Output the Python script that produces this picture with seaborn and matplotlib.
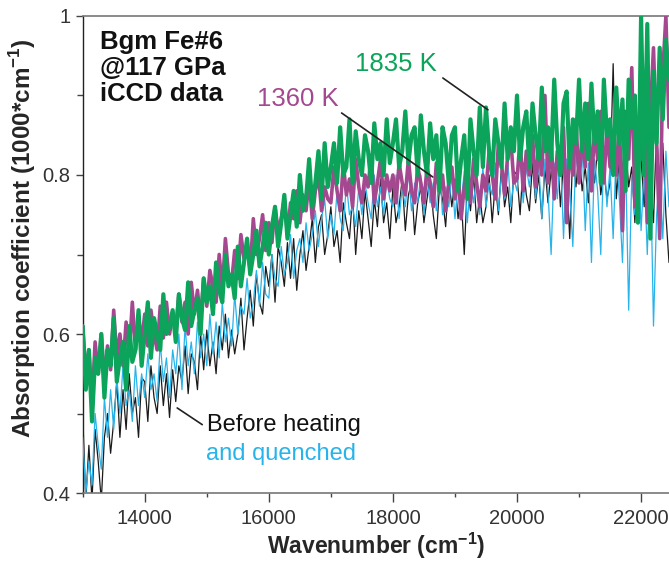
import numpy as np
import pandas as pd
import matplotlib
matplotlib.use("Agg")
import matplotlib.pyplot as plt
import seaborn as sns

# ---------------- data ----------------
wn_start, wn_stop, wn_step = 13000, 22450, 50
wavenumber = np.arange(wn_start, wn_stop + 1, wn_step)

before_heating = [
    0.50, 0.39, 0.46, 0.39, 0.48, 0.44, 0.39, 0.47, 0.50, 0.45,
    0.49, 0.54, 0.47, 0.53, 0.48, 0.55, 0.50, 0.52, 0.47, 0.545,
    0.54, 0.49, 0.56, 0.52, 0.50, 0.56, 0.51, 0.55, 0.495, 0.555,
    0.515, 0.56, 0.54, 0.585, 0.525, 0.575, 0.565, 0.53, 0.60, 0.555,
    0.605, 0.56, 0.59, 0.55, 0.61, 0.58, 0.625, 0.57, 0.605, 0.575,
    0.60, 0.645, 0.58, 0.62, 0.655, 0.61, 0.675, 0.64, 0.625, 0.685,
    0.66, 0.70, 0.64, 0.71, 0.69, 0.66, 0.715, 0.67, 0.72, 0.655,
    0.70, 0.73, 0.68, 0.71, 0.745, 0.69, 0.735, 0.75, 0.70, 0.725,
    0.76, 0.71, 0.73, 0.69, 0.765, 0.74, 0.72, 0.775, 0.70, 0.755,
    0.72, 0.78, 0.745, 0.71, 0.77, 0.735, 0.795, 0.74, 0.765, 0.72,
    0.785, 0.74, 0.76, 0.795, 0.73, 0.775, 0.79, 0.725, 0.765, 0.785,
    0.74, 0.77, 0.80, 0.75, 0.72, 0.785, 0.77, 0.735, 0.795, 0.76,
    0.795, 0.745, 0.775, 0.70, 0.79, 0.755, 0.80, 0.74, 0.775, 0.74,
    0.76, 0.80, 0.74, 0.79, 0.75, 0.81, 0.76, 0.785, 0.74, 0.805,
    0.80, 0.75, 0.815, 0.775, 0.755, 0.815, 0.765, 0.80, 0.745, 0.81,
    0.765, 0.805, 0.78, 0.83, 0.76, 0.815, 0.80, 0.72, 0.83, 0.785,
    0.83, 0.78, 0.81, 0.765, 0.825, 0.79, 0.835, 0.775, 0.805, 0.77,
    0.79, 0.94, 0.77, 0.82, 0.76, 0.84, 0.785, 0.81, 0.74, 0.835,
    0.82, 0.76, 0.85, 0.79, 0.74, 0.86, 0.78, 0.84, 0.75, 0.69,
]

quenched = [
    0.47, 0.40, 0.44, 0.41, 0.50, 0.46, 0.43, 0.52, 0.47, 0.53,
    0.48, 0.545, 0.50, 0.56, 0.51, 0.53, 0.49, 0.56, 0.51, 0.55,
    0.52, 0.575, 0.53, 0.55, 0.515, 0.59, 0.54, 0.57, 0.52, 0.58,
    0.55, 0.60, 0.53, 0.61, 0.56, 0.59, 0.55, 0.615, 0.57, 0.60,
    0.56, 0.625, 0.575, 0.615, 0.57, 0.64, 0.59, 0.62, 0.585, 0.65,
    0.60, 0.635, 0.625, 0.67, 0.62, 0.64, 0.68, 0.635, 0.69, 0.65,
    0.645, 0.70, 0.67, 0.66, 0.71, 0.675, 0.69, 0.725, 0.67, 0.705,
    0.72, 0.69, 0.74, 0.705, 0.725, 0.755, 0.71, 0.745, 0.77, 0.72,
    0.75, 0.725, 0.78, 0.745, 0.73, 0.79, 0.75, 0.76, 0.735, 0.785,
    0.75, 0.79, 0.765, 0.745, 0.80, 0.76, 0.785, 0.75, 0.795, 0.77,
    0.76, 0.80, 0.745, 0.785, 0.76, 0.805, 0.755, 0.79, 0.765, 0.80,
    0.75, 0.795, 0.765, 0.79, 0.755, 0.81, 0.75, 0.785, 0.76, 0.80,
    0.745, 0.79, 0.765, 0.805, 0.74, 0.795, 0.765, 0.80, 0.75, 0.81,
    0.76, 0.79, 0.775, 0.815, 0.755, 0.80, 0.77, 0.82, 0.76, 0.795,
    0.78, 0.825, 0.765, 0.81, 0.785, 0.83, 0.77, 0.815, 0.745, 0.82,
    0.78, 0.70, 0.815, 0.77, 0.835, 0.72, 0.82, 0.78, 0.71, 0.83,
    0.79, 0.84, 0.73, 0.815, 0.69, 0.82, 0.78, 0.70, 0.83, 0.76,
    0.81, 0.72, 0.835, 0.77, 0.69, 0.82, 0.63, 0.80, 0.75, 0.84,
    0.73, 0.81, 0.70, 0.82, 0.61, 0.75, 0.80, 0.72, 0.83, 0.76,
]

heated_1360K = [
    0.61, 0.55, 0.58, 0.51, 0.59, 0.55, 0.60, 0.54, 0.585, 0.555,
    0.63, 0.57, 0.60, 0.56, 0.615, 0.575, 0.64, 0.58, 0.62, 0.59,
    0.625, 0.585, 0.63, 0.60, 0.58, 0.635, 0.595, 0.64, 0.60, 0.625,
    0.605, 0.65, 0.615, 0.64, 0.60, 0.665, 0.625, 0.655, 0.615, 0.67,
    0.635, 0.68, 0.66, 0.64, 0.70, 0.655, 0.72, 0.675, 0.665, 0.705,
    0.67, 0.725, 0.695, 0.71, 0.68, 0.745, 0.70, 0.72, 0.75, 0.705,
    0.74, 0.715, 0.76, 0.73, 0.745, 0.77, 0.725, 0.765, 0.745, 0.78,
    0.74, 0.775, 0.755, 0.795, 0.745, 0.78, 0.80, 0.755, 0.785, 0.77,
    0.765, 0.81, 0.78, 0.755, 0.815, 0.775, 0.795, 0.76, 0.82, 0.785,
    0.765, 0.80, 0.785, 0.825, 0.765, 0.79, 0.82, 0.77, 0.80, 0.78,
    0.80, 0.765, 0.815, 0.79, 0.775, 0.82, 0.78, 0.765, 0.81, 0.79,
    0.765, 0.81, 0.79, 0.76, 0.815, 0.78, 0.80, 0.755, 0.79, 0.81,
    0.77, 0.805, 0.745, 0.785, 0.815, 0.765, 0.82, 0.79, 0.76, 0.80,
    0.78, 0.83, 0.80, 0.77, 0.84, 0.815, 0.775, 0.825, 0.845, 0.79,
    0.795, 0.845, 0.78, 0.83, 0.80, 0.85, 0.785, 0.835, 0.80, 0.90,
    0.79, 0.845, 0.77, 0.83, 0.80, 0.86, 0.74, 0.84, 0.80, 0.87,
    0.79, 0.85, 0.81, 0.89, 0.78, 0.86, 0.82, 0.88, 0.79, 0.86,
    0.81, 0.85, 0.80, 0.87, 0.73, 0.88, 0.82, 0.935, 0.76, 0.86,
    0.82, 0.90, 0.74, 0.88, 0.96, 0.84, 0.72, 0.93, 1.00, 0.86,
]

heated_1835K = [
    0.61, 0.53, 0.58, 0.49, 0.57, 0.55, 0.60, 0.52, 0.58, 0.56,
    0.62, 0.54, 0.57, 0.59, 0.53, 0.61, 0.565, 0.58, 0.63, 0.56,
    0.60, 0.64, 0.57, 0.62, 0.60, 0.58, 0.65, 0.60, 0.61, 0.63,
    0.59, 0.65, 0.62, 0.605, 0.665, 0.61, 0.63, 0.645, 0.60, 0.67,
    0.64, 0.66, 0.625, 0.69, 0.655, 0.64, 0.70, 0.66, 0.675, 0.645,
    0.71, 0.66, 0.69, 0.72, 0.675, 0.70, 0.73, 0.685, 0.71, 0.74,
    0.70, 0.735, 0.76, 0.71, 0.74, 0.775, 0.72, 0.75, 0.78, 0.735,
    0.80, 0.755, 0.77, 0.82, 0.76, 0.79, 0.83, 0.77, 0.84, 0.785,
    0.81, 0.84, 0.79, 0.86, 0.80, 0.81, 0.87, 0.79, 0.855, 0.82,
    0.80, 0.85, 0.83, 0.79, 0.865, 0.82, 0.84, 0.80, 0.87, 0.815,
    0.84, 0.87, 0.81, 0.83, 0.88, 0.815, 0.85, 0.86, 0.80, 0.875,
    0.83, 0.80, 0.865, 0.82, 0.85, 0.78, 0.86, 0.84, 0.79, 0.85,
    0.86, 0.78, 0.82, 0.85, 0.77, 0.87, 0.83, 0.80, 0.885, 0.81,
    0.885, 0.83, 0.80, 0.87, 0.84, 0.81, 0.89, 0.82, 0.86, 0.83,
    0.90, 0.82, 0.86, 0.88, 0.81, 0.89, 0.85, 0.82, 0.91, 0.83,
    0.86, 0.82, 0.92, 0.84, 0.80, 0.89, 0.905, 0.81, 0.87, 0.84,
    0.92, 0.83, 0.89, 0.82, 0.915, 0.84, 0.88, 0.79, 0.92, 0.85,
    0.87, 0.80, 0.91, 0.84, 0.895, 0.78, 0.92, 0.86, 0.90, 0.74,
    1.00, 0.80, 0.99, 0.72, 0.93, 0.84, 0.96, 0.87, 0.97, 0.92,
]

x_ticks = [14000, 16000, 18000, 20000, 22000]
x_tick_labels = ["14000", "16000", "18000", "20000", "22000"]
y_ticks = [0.4, 0.6, 0.8, 1.0]
y_tick_labels = ["0.4", "0.6", "0.8", "1"]

# ---------------- style ----------------
sns.set_style("ticks")
plt.rcParams["font.family"] = ["Liberation Sans", "DejaVu Sans"]

COL_BLACK = "#1a1a1a"
COL_BLUE = "#27b4ea"
COL_PURPLE = "#a4498f"
COL_GREEN = "#0ba45a"

fig = plt.figure(figsize=(6.69, 5.63), dpi=100)
ax = fig.add_axes([0.1236, 0.1243, 0.8764, 0.8473])

df = pd.DataFrame({
    "wn": wavenumber,
    "before": before_heating,
    "quenched": quenched,
    "k1360": heated_1360K,
    "k1835": heated_1835K,
})

sns.lineplot(data=df, x="wn", y="before", ax=ax, color=COL_BLACK, lw=0.9, zorder=2)
sns.lineplot(data=df, x="wn", y="quenched", ax=ax, color=COL_BLUE, lw=0.9, zorder=3)
sns.lineplot(data=df, x="wn", y="k1360", ax=ax, color=COL_PURPLE, lw=2.6, zorder=4)
sns.lineplot(data=df, x="wn", y="k1835", ax=ax, color=COL_GREEN, lw=3.0, zorder=5)

ax.set_xlim(13000, 22450)
ax.set_ylim(0.4, 1.0)

ax.set_xticks(x_ticks)
ax.set_xticklabels(x_tick_labels)
ax.set_xticks(np.arange(13000, 22451, 1000), minor=True)
ax.set_yticks(y_ticks)
ax.set_yticklabels(y_tick_labels)
ax.set_yticks([0.5, 0.7, 0.9], minor=True)

for lab in ax.get_xticklabels() + ax.get_yticklabels():
    lab.set_fontsize(14.5)
    lab.set_color("#333333")

ax.tick_params(axis="x", which="major", direction="out", length=6.5, width=1.0, color="#444444", pad=5)
ax.tick_params(axis="x", which="minor", direction="out", length=3, width=1.0, color="#444444")
ax.tick_params(axis="y", which="major", direction="out", length=5, width=1.0, color="#444444", pad=4)
ax.tick_params(axis="y", which="minor", direction="out", length=4, width=1.0, color="#444444")

for side in ["top", "bottom"]:
    ax.spines[side].set_visible(True)
    ax.spines[side].set_color("#777777")
    ax.spines[side].set_linewidth(1.2)
ax.spines["left"].set_color("#222222")
ax.spines["left"].set_linewidth(1.0)
ax.spines["right"].set_visible(False)

ax.set_xlabel("Wavenumber (cm$^{\\mathregular{-1}}$)", fontsize=16.5, fontweight="bold", labelpad=2)
ax.set_ylabel("Absorption coefficient (1000*cm$^{\\mathregular{-1}}$)", fontsize=17.5, fontweight="bold")
ax.yaxis.set_label_coords(-0.077, 0.535)

# annotations
ax.text(13280, 0.982, "Bgm Fe#6\n@117 GPa\niCCD data", fontsize=18.5, fontweight="bold",
        ha="left", va="top", linespacing=1.1, color="#111111")
ax.text(16462, 0.8956, "1360 K", fontsize=18.5, color=COL_PURPLE, ha="center", va="center")
ax.text(18045, 0.9396, "1835 K", fontsize=18.5, color=COL_GREEN, ha="center", va="center")
ax.text(15008, 0.4855, "Before heating", fontsize=17, color="#111111", ha="left", va="center")
ax.text(14992, 0.449, "and quenched", fontsize=17, color=COL_BLUE, ha="left", va="center")

ax.plot([17173, 18643], [0.878, 0.7975], color="#222222", lw=1.2, zorder=6)
ax.plot([18805, 19532], [0.922, 0.882], color="#222222", lw=1.2, zorder=6)
ax.plot([14523, 14927], [0.507, 0.486], color="#222222", lw=1.2, zorder=6)

fig.savefig("out.png", dpi=100)
